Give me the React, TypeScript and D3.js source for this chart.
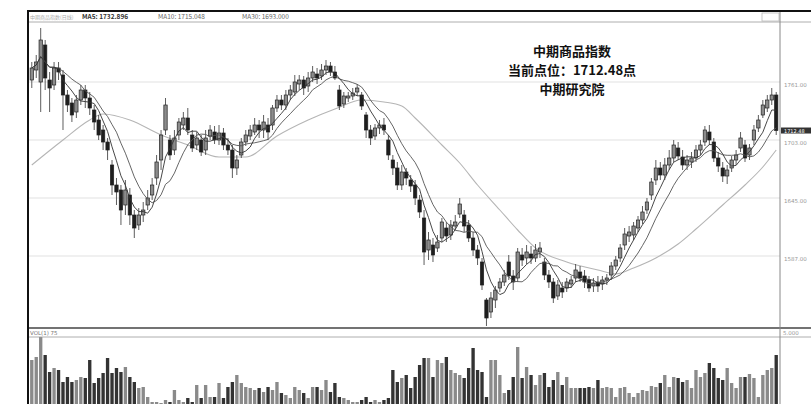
import React from 'react';
import * as d3 from 'd3';

// daily bars, oldest first
const opens = [
  1763, 1773, 1761, 1798, 1763, 1758, 1775, 1768, 1748, 1740,
  1731, 1743, 1753, 1745, 1733, 1723, 1713, 1701, 1678, 1658,
  1653, 1638, 1648, 1628, 1618, 1628, 1638, 1648, 1665, 1683,
  1713, 1703, 1693, 1708, 1718, 1725, 1708, 1698, 1703, 1693,
  1707, 1711, 1703, 1710, 1698, 1693, 1675, 1688, 1701, 1707,
  1711, 1718, 1713, 1718, 1718, 1735, 1743, 1738, 1748, 1751,
  1759, 1763, 1757, 1765, 1769, 1767, 1773, 1777, 1771, 1753,
  1739, 1745, 1747, 1751, 1748, 1728, 1713, 1707, 1715, 1718,
  1703, 1683, 1675, 1658, 1671, 1663, 1658, 1643, 1625, 1593,
  1598, 1595, 1605, 1615, 1608, 1617, 1629, 1628, 1618, 1605,
  1593, 1581, 1543, 1531, 1543, 1555, 1561, 1581, 1567, 1565,
  1588, 1585, 1589, 1585, 1591, 1581, 1568, 1561, 1547, 1555,
  1555, 1559, 1565, 1571, 1567, 1563, 1557, 1561, 1559, 1563,
  1568, 1577, 1585, 1598, 1607, 1608, 1615, 1623, 1633, 1648,
  1663, 1675, 1668, 1678, 1685, 1695, 1686, 1678, 1681, 1685,
  1693, 1701, 1711, 1701, 1685, 1675, 1667, 1675, 1683, 1695,
  1698, 1688, 1703, 1715, 1728, 1735, 1743, 1748,
];

const highs = [
  1781, 1788, 1815, 1803, 1771, 1781, 1781, 1773, 1753, 1745,
  1748, 1758, 1758, 1751, 1738, 1728, 1718, 1705, 1683, 1665,
  1658, 1663, 1655, 1633, 1635, 1641, 1653, 1665, 1688, 1713,
  1745, 1708, 1713, 1725, 1731, 1735, 1713, 1711, 1708, 1713,
  1718, 1717, 1718, 1715, 1705, 1698, 1688, 1705, 1713, 1718,
  1725, 1723, 1728, 1725, 1738, 1748, 1748, 1753, 1758, 1768,
  1768, 1767, 1771, 1777, 1775, 1779, 1783, 1781, 1777, 1758,
  1751, 1751, 1755, 1759, 1751, 1731, 1718, 1719, 1723, 1725,
  1708, 1688, 1681, 1678, 1675, 1668, 1663, 1648, 1633, 1611,
  1605, 1608, 1625, 1621, 1623, 1628, 1645, 1633, 1623, 1611,
  1598, 1585, 1545, 1551, 1557, 1565, 1573, 1588, 1573, 1595,
  1595, 1598, 1597, 1599, 1601, 1585, 1573, 1565, 1563, 1561,
  1565, 1567, 1579, 1577, 1573, 1567, 1565, 1567, 1567, 1569,
  1581, 1587, 1599, 1615, 1617, 1621, 1627, 1637, 1645, 1665,
  1683, 1681, 1685, 1693, 1703, 1701, 1693, 1688, 1691, 1698,
  1703, 1717, 1718, 1705, 1691, 1681, 1678, 1687, 1693, 1711,
  1703, 1699, 1718, 1728, 1743, 1748, 1755, 1751,
];

const lows = [
  1755, 1765, 1731, 1753, 1731, 1753, 1763, 1713, 1731, 1721,
  1725, 1738, 1735, 1728, 1713, 1703, 1693, 1683, 1648, 1638,
  1618, 1628, 1618, 1605, 1613, 1621, 1633, 1643, 1658, 1673,
  1708, 1683, 1688, 1703, 1713, 1708, 1691, 1693, 1687, 1688,
  1703, 1699, 1698, 1693, 1688, 1665, 1668, 1685, 1697, 1703,
  1708, 1705, 1705, 1703, 1713, 1731, 1733, 1733, 1743, 1747,
  1753, 1748, 1751, 1761, 1759, 1763, 1768, 1767, 1763, 1733,
  1735, 1741, 1743, 1747, 1733, 1705, 1698, 1703, 1709, 1708,
  1683, 1668, 1653, 1653, 1658, 1651, 1638, 1625, 1578, 1583,
  1581, 1591, 1601, 1601, 1603, 1613, 1625, 1611, 1601, 1587,
  1578, 1553, 1517, 1525, 1535, 1551, 1557, 1563, 1553, 1561,
  1577, 1579, 1579, 1581, 1585, 1563, 1555, 1540, 1543, 1545,
  1551, 1555, 1561, 1561, 1555, 1551, 1551, 1551, 1553, 1558,
  1563, 1573, 1581, 1593, 1601, 1603, 1611, 1619, 1629, 1643,
  1658, 1663, 1663, 1673, 1681, 1683, 1673, 1673, 1675, 1681,
  1688, 1697, 1698, 1681, 1671, 1661, 1659, 1671, 1678, 1691,
  1681, 1683, 1698, 1711, 1725, 1731, 1738, 1708,
];

const closes = [
  1775, 1781, 1803, 1765, 1755, 1775, 1771, 1748, 1738, 1728,
  1743, 1753, 1745, 1735, 1721, 1708, 1701, 1693, 1658, 1651,
  1633, 1653, 1628, 1615, 1628, 1633, 1645, 1658, 1681, 1708,
  1738, 1688, 1705, 1721, 1725, 1713, 1695, 1705, 1691, 1705,
  1713, 1703, 1710, 1698, 1693, 1675, 1683, 1701, 1708, 1713,
  1718, 1713, 1721, 1711, 1735, 1743, 1738, 1748, 1753, 1761,
  1763, 1755, 1765, 1771, 1765, 1773, 1777, 1771, 1765, 1737,
  1747, 1747, 1750, 1755, 1737, 1713, 1705, 1715, 1718, 1713,
  1688, 1675, 1658, 1671, 1665, 1657, 1645, 1631, 1591, 1603,
  1588, 1601, 1621, 1607, 1618, 1621, 1639, 1617, 1605, 1593,
  1585, 1558, 1525, 1545, 1553, 1561, 1568, 1567, 1561, 1591,
  1583, 1591, 1585, 1593, 1595, 1568, 1561, 1545, 1558, 1551,
  1561, 1563, 1573, 1565, 1561, 1555, 1560, 1557, 1563, 1565,
  1577, 1583, 1595, 1609, 1611, 1617, 1623, 1631, 1641, 1661,
  1675, 1668, 1678, 1685, 1698, 1687, 1678, 1683, 1685, 1693,
  1698, 1713, 1703, 1685, 1677, 1667, 1673, 1683, 1688, 1705,
  1685, 1695, 1713, 1723, 1738, 1743, 1748, 1712.48,
];

const volumes = [
  70, 73, 93, 75, 58, 62, 60, 48, 53, 48,
  50, 53, 52, 70, 47, 52, 57, 72, 57, 62,
  58, 63, 53, 48, 42, 43, 33, 28, 28, 27,
  30, 28, 40, 30, 28, 32, 28, 45, 32, 45,
  33, 33, 47, 32, 43, 48, 55, 47, 43, 42,
  40, 42, 38, 43, 40, 48, 37, 35, 32, 43,
  40, 37, 32, 43, 43, 40, 50, 38, 47, 33,
  32, 30, 28, 28, 30, 33, 28, 30, 28, 30,
  32, 60, 48, 52, 55, 42, 53, 65, 72, 72,
  53, 70, 67, 73, 60, 57, 55, 52, 62, 82,
  60, 58, 33, 70, 70, 55, 37, 40, 53, 83,
  52, 63, 55, 45, 55, 57, 43, 50, 58, 45,
  53, 42, 42, 42, 42, 43, 42, 50, 42, 43,
  42, 33, 42, 43, 37, 33, 37, 40, 39, 44,
  43, 47, 55, 43, 53, 52, 48, 50, 42, 60,
  53, 57, 67, 62, 52, 50, 62, 47, 42, 53,
  53, 56, 52, 33, 55, 60, 62, 75,
];

// slow average at these bars
const slowMaIndex = [0, 7, 13, 16, 22, 29, 35, 42, 48, 55, 62, 68, 74, 79, 83, 86, 92, 96, 100, 105, 109, 113, 120, 127, 131, 135, 140, 145, 149, 155, 160, 164, 167];
const slowMaValue = [1678, 1703, 1723, 1729, 1723, 1708, 1698, 1686, 1686, 1707, 1723, 1734, 1743, 1741, 1737, 1725, 1698, 1680, 1658, 1633, 1613, 1595, 1581, 1573, 1569, 1575, 1585, 1599, 1614, 1638, 1658, 1676, 1693];

const priceTicks = [1587, 1645, 1703, 1761];
const titleLines = ['中期商品指数', '当前点位：1712.48点', '中期研究院'];

const movingAverage = (vals: number[], n: number) =>
  vals.map((_, i) => d3.mean(vals.slice(Math.max(0, i - n + 1), i + 1)) as number);

const App: React.FC = () => {
  const W = 811;
  const H = 404;
  const frame = { left: 28, right: 780, top: 11, info: 22, priceBottom: 328, volTop: 337 };

  const idx = d3.range(closes.length);
  const x = d3.scaleBand<number>().domain(idx).range([29, 779]).padding(0.25);
  const y = d3.scaleLinear().domain([1515, 1821]).range([328, 22]);
  const yVol = d3.scaleLinear().domain([0, 100]).range([430, 330]);
  const cx = (i: number) => (x(i) || 0) + x.bandwidth() / 2;

  const ma5 = movingAverage(closes, 5);
  const ma10 = movingAverage(closes, 10);
  const maLine = d3.line<number>().x((_, i) => cx(i)).y(d => y(d));
  const slowLine = d3.line<number>()
    .x((_, k) => cx(slowMaIndex[k]))
    .y(d => y(d))
    .curve(d3.curveMonotoneX);

  const last = closes.length - 1;
  const infoTexts = [
    { x: 30, text: '中期商品指数(日线)', color: '#aaa', weight: 400 },
    { x: 82, text: `MA5: ${ma5[last].toFixed(3)}`, color: '#333', weight: 700 },
    { x: 158, text: `MA10: ${ma10[last].toFixed(3)}`, color: '#666', weight: 400 },
    { x: 242, text: `MA30: ${slowMaValue[slowMaValue.length - 1].toFixed(3)}`, color: '#666', weight: 400 },
  ];

  return (
    <svg width={W} height={H} style={{ position: 'absolute', left: 0, top: 0, background: '#fff' }}
      fontFamily="'DejaVu Sans', sans-serif">
      <defs>
        <clipPath id="pricePanel">
          <rect x={frame.left} y={frame.info} width={frame.right - frame.left} height={frame.priceBottom - frame.info} />
        </clipPath>
      </defs>
      <rect x={0} y={0} width={W} height={H} fill="#fff" />

      {/* grid */}
      {priceTicks.map(t => (
        <g key={t}>
          <line x1={frame.left} x2={frame.right} y1={y(t)} y2={y(t)} stroke="#e2e2e2" strokeWidth={1.2} />
          <text x={784} y={y(t) + 5} fontSize={5.5} fill="#999">{t.toFixed(2)}</text>
        </g>
      ))}

      {/* info bar */}
      {infoTexts.map(d => (
        <text key={d.x} x={d.x} y={19} fontSize={d.x === 30 ? 5 : 6.5} fill={d.color} fontWeight={d.weight}
          fontFamily="'Noto Sans CJK SC', sans-serif">{d.text}</text>
      ))}
      <rect x={762} y={13} width={17} height={8} fill="none" stroke="#bbb" strokeWidth={0.8} />

      {/* candles and averages */}
      <g clipPath="url(#pricePanel)">
        <path d={slowLine(slowMaValue) || ''} fill="none" stroke="#b5b5b5" strokeWidth={1.1} />
        {idx.map(i => {
          const up = closes[i] >= opens[i];
          const top = y(Math.max(opens[i], closes[i]));
          const bottom = y(Math.min(opens[i], closes[i]));
          return (
            <g key={i}>
              <line x1={cx(i)} x2={cx(i)} y1={y(highs[i])} y2={y(lows[i])} stroke="#333" strokeWidth={0.8} />
              <rect x={x(i)} y={top} width={x.bandwidth()} height={Math.max(1, bottom - top)}
                fill={up ? '#8c8c8c' : '#1e1e1e'} stroke="#222" strokeWidth={0.7} />
            </g>
          );
        })}
        <path d={maLine(ma10) || ''} fill="none" stroke="#555" strokeWidth={0.9} />
        <path d={maLine(ma5) || ''} fill="none" stroke="#333" strokeWidth={0.9} />
      </g>

      {/* title */}
      {titleLines.map((t, k) => (
        <text key={t} x={572} y={56 + k * 19} textAnchor="middle" fontSize={13} fontWeight={700}
          fill="#111" fontFamily="'Noto Sans CJK SC', sans-serif">{t}</text>
      ))}

      {/* current price tag */}
      <rect x={781} y={y(closes[last]) - 3} width={30} height={6} fill="#333" />
      <text x={784} y={y(closes[last]) + 2} fontSize={5} fill="#fff">{closes[last].toFixed(2)}</text>

      {/* volume */}
      {idx.map(i => (
        <rect key={i} x={x(i)} y={yVol(volumes[i])} width={x.bandwidth()} height={yVol(0) - yVol(volumes[i])}
          fill={closes[i] >= opens[i] ? '#8a8a8a' : '#333'} />
      ))}
      <text x={30} y={334.5} fontSize={5.5} fill="#777">VOL(1) {volumes[last]}</text>
      <text x={783} y={334.5} fontSize={5.5} fill="#999">5.000</text>

      {/* frame */}
      <line x1={frame.left} x2={W} y1={frame.info} y2={frame.info} stroke="#999" strokeWidth={0.8} />
      <line x1={frame.left} x2={W} y1={frame.priceBottom} y2={frame.priceBottom} stroke="#444" strokeWidth={1.6} />
      <line x1={frame.left} x2={W} y1={frame.volTop} y2={frame.volTop} stroke="#999" strokeWidth={0.8} />
      <line x1={frame.right} x2={frame.right} y1={frame.top} y2={H} stroke="#888" strokeWidth={1} />
      <line x1={frame.left - 1} x2={W} y1={frame.top} y2={frame.top} stroke="#111" strokeWidth={2} />
      <line x1={frame.left} x2={frame.left} y1={frame.top} y2={H} stroke="#111" strokeWidth={2} />
    </svg>
  );
};

export default App;
